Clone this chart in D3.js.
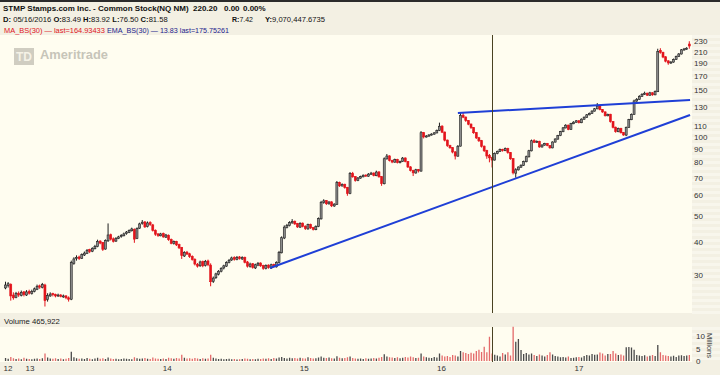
<!DOCTYPE html>
<html>
<head>
<meta charset="utf-8">
<script src="https://cdn.jsdelivr.net/npm/d3@7"></script>
<style>
  body { margin: 0; background: #fffdf0; overflow: hidden; }
  svg { display: block; }
  text { font-family: "Liberation Sans", Arial, sans-serif; }
</style>
</head>
<body>
<div id="chart"></div>
<script>
// weekly bars, first week starting 2012-10-29
const startWeek = "2012-10-29";
const open = [
  26.8, 27.4, 27.6, 25.2, 24.7, 25.6, 25.1, 25.9, 25.2, 26.0,
  25.5, 26.0, 26.5, 27.3, 26.9, 27.5, 24.2, 25.0, 25.5, 25.3,
  25.0, 25.2, 24.8, 25.0, 24.6, 24.3, 33.2, 34.6, 35.1, 34.7,
  35.7, 36.2, 37.4, 36.9, 37.7, 38.4, 40.3, 39.8, 37.6, 40.4,
  42.6, 41.1, 40.3, 41.2, 41.9, 42.2, 43.0, 43.5, 44.1, 44.6,
  41.2, 45.1, 46.9, 47.6, 45.7, 47.3, 46.4, 44.3, 42.9, 42.2,
  43.0, 41.7, 42.4, 40.9, 39.4, 40.2, 39.1, 38.1, 35.4, 36.6,
  36.1, 35.3, 34.4, 32.9, 32.5, 33.7, 32.6, 33.9, 32.7, 28.4,
  29.3, 30.2, 31.0, 31.9, 32.4, 33.5, 34.2, 34.9, 34.3, 35.1,
  34.5, 35.0, 33.6, 32.3, 33.1, 31.9, 32.7, 33.3, 32.6, 31.7,
  32.7, 31.9, 32.9, 32.2, 33.4, 36.4, 41.4, 45.4, 46.1, 47.2,
  47.9, 46.9, 45.5, 47.1, 45.9, 44.8, 46.6, 45.3, 44.5, 45.7,
  48.9, 56.4, 57.3, 55.7, 56.7, 54.7, 55.5, 67.1, 65.1, 66.1,
  64.3, 60.9, 72.6, 70.6, 68.2, 69.7, 70.5, 71.6, 70.9, 72.1,
  72.9, 71.2, 73.6, 70.6, 66.4, 82.4, 84.6, 81.4, 80.1, 82.1,
  79.7, 80.5, 83.1, 80.6, 76.9, 74.6, 72.9, 75.1, 74.1, 103.6,
  99.7, 100.5, 101.4, 102.2, 103.3, 105.5, 109.6, 104.1, 97.1, 92.6,
  90.9, 87.6, 84.4, 92.1, 120.6, 118.6, 115.1, 111.6, 108.3, 103.6,
  99.1, 96.6, 92.1, 88.6, 85.0, 83.49, 81.6, 86.4, 87.9, 89.6,
  88.5, 90.3, 87.1, 82.6, 72.8, 74.9, 76.7, 77.9, 80.4, 83.9,
  88.4, 96.6, 95.1, 96.1, 91.4, 92.9, 94.3, 92.6, 90.7, 95.4,
  97.9, 100.9, 104.4, 107.9, 110.6, 106.4, 111.9, 113.4, 114.9, 112.9,
  116.4, 118.4, 120.9, 122.4, 124.9, 127.4, 130.6, 126.6, 124.1, 119.9,
  121.6, 114.1, 108.6, 104.4, 107.6, 103.6, 101.4, 108.4, 115.9, 121.4,
  136.4, 138.4, 141.9, 144.4, 146.1, 143.4, 146.6, 143.9, 147.9, 212.0,
  208.5, 200.5, 193.5, 189.8, 191.4, 195.9, 200.9, 205.4, 212.9, 214.4,
  224.0
];
const high = [
  28.3, 28.2, 27.9, 25.8, 25.9, 26.0, 26.2, 26.1, 26.3, 26.4,
  26.4, 26.9, 27.6, 27.6, 28.0, 27.8, 25.6, 25.8, 25.7, 25.5,
  25.5, 25.4, 25.3, 25.2, 24.9, 34.0, 35.0, 35.6, 35.5, 36.2,
  36.8, 37.6, 37.7, 38.2, 39.0, 40.8, 40.6, 40.0, 40.9, 47.0,
  43.0, 41.6, 41.7, 42.2, 42.8, 43.4, 44.0, 44.6, 45.3, 45.0,
  45.4, 47.3, 48.4, 48.0, 47.8, 47.9, 46.8, 44.6, 43.2, 43.3,
  43.4, 42.9, 42.7, 41.2, 40.5, 40.4, 39.4, 38.3, 36.9, 37.0,
  36.4, 35.6, 34.7, 33.3, 34.0, 34.0, 34.2, 34.3, 33.2, 29.6,
  30.6, 31.3, 32.1, 32.8, 33.8, 34.5, 35.2, 35.3, 35.4, 35.4,
  35.3, 35.2, 33.9, 33.4, 33.3, 33.1, 33.6, 33.5, 32.8, 32.9,
  32.9, 33.1, 33.1, 33.8, 37.0, 42.0, 46.2, 46.8, 47.9, 48.8,
  48.2, 47.2, 47.5, 47.4, 46.2, 46.9, 46.9, 45.6, 46.2, 49.5,
  57.2, 58.0, 57.6, 57.1, 57.0, 56.0, 68.0, 67.6, 66.6, 66.4,
  64.6, 73.5, 73.6, 71.0, 70.4, 71.2, 72.0, 72.0, 72.8, 73.6,
  73.2, 74.4, 74.0, 71.0, 83.5, 86.0, 85.0, 81.8, 82.6, 82.5,
  81.2, 83.8, 83.5, 80.9, 77.3, 75.0, 75.6, 75.5, 105.0, 104.2,
  101.4, 102.2, 103.0, 104.0, 106.4, 113.0, 110.5, 104.6, 97.5, 93.2,
  91.4, 88.2, 93.0, 123.5, 123.0, 119.2, 115.6, 112.2, 108.8, 104.2,
  99.8, 97.2, 92.6, 89.2, 86.0, 83.92, 87.2, 88.6, 90.2, 90.0,
  91.0, 90.8, 87.5, 83.0, 76.0, 77.2, 78.6, 81.2, 84.8, 89.2,
  97.5, 97.8, 96.8, 96.5, 93.6, 94.8, 94.7, 93.0, 96.0, 98.6,
  101.6, 105.2, 108.8, 111.5, 111.0, 112.8, 114.4, 115.6, 115.3, 117.2,
  119.2, 121.8, 123.4, 125.8, 128.4, 134.0, 131.2, 127.2, 124.6, 122.2,
  122.0, 114.6, 109.2, 108.2, 108.0, 104.2, 109.2, 116.8, 122.4, 138.0,
  140.0, 143.5, 146.0, 148.0, 146.6, 147.8, 147.2, 149.5, 215.0, 216.0,
  209.5, 201.5, 194.5, 193.0, 197.5, 202.5, 207.0, 214.5, 216.5, 218.0,
  229.5
];
const low = [
  26.5, 26.9, 24.0, 24.2, 24.5, 24.8, 24.9, 24.9, 25.0, 25.3,
  25.3, 25.8, 26.3, 26.6, 26.7, 22.8, 23.8, 24.8, 24.9, 24.7,
  24.8, 24.7, 24.6, 24.3, 23.8, 24.1, 32.8, 34.0, 34.2, 34.5,
  35.4, 36.0, 36.3, 36.6, 37.5, 38.2, 39.2, 37.0, 37.4, 40.0,
  40.5, 39.8, 40.0, 41.0, 41.5, 42.0, 42.6, 43.2, 43.8, 39.7,
  41.0, 44.8, 46.5, 45.2, 45.4, 46.0, 43.8, 42.2, 41.8, 42.0,
  41.5, 41.4, 40.4, 39.2, 39.1, 38.6, 37.6, 34.5, 35.1, 35.7,
  34.8, 34.0, 32.6, 32.0, 32.2, 32.1, 32.3, 32.4, 27.2, 28.0,
  29.0, 29.9, 30.7, 31.5, 32.2, 33.2, 33.9, 34.0, 34.1, 34.3,
  34.2, 33.2, 32.0, 32.0, 31.7, 31.6, 32.4, 32.2, 31.4, 31.5,
  31.7, 31.6, 32.0, 32.0, 33.2, 36.2, 41.0, 45.0, 45.8, 46.9,
  46.4, 45.2, 45.2, 45.4, 44.4, 44.5, 44.8, 44.2, 44.3, 45.5,
  48.6, 55.8, 55.2, 55.4, 54.2, 54.3, 55.2, 64.6, 64.8, 63.6,
  59.8, 60.6, 70.0, 67.6, 67.9, 69.4, 70.2, 70.4, 70.6, 71.8,
  70.8, 70.9, 70.0, 65.2, 66.0, 82.0, 80.6, 79.4, 79.8, 79.2,
  79.3, 80.2, 80.0, 76.2, 73.9, 71.0, 72.5, 73.2, 73.8, 98.5,
  99.2, 100.0, 101.0, 101.8, 103.0, 105.0, 103.2, 96.0, 91.5, 90.0,
  86.5, 82.0, 84.0, 91.8, 117.5, 113.8, 110.5, 107.0, 102.5, 98.0,
  95.5, 91.0, 87.5, 82.5, 80.0, 76.50, 81.2, 85.8, 87.5, 87.8,
  88.2, 86.2, 81.8, 72.0, 70.0, 74.5, 76.2, 77.5, 80.0, 83.5,
  88.0, 94.6, 94.8, 90.8, 91.0, 92.5, 92.0, 90.0, 90.4, 95.0,
  97.5, 100.5, 104.0, 107.5, 105.8, 106.0, 111.5, 113.0, 112.2, 112.5,
  116.0, 118.0, 120.5, 122.0, 124.5, 127.0, 125.8, 123.2, 119.2, 119.5,
  113.0, 107.5, 103.5, 104.0, 102.8, 100.8, 100.5, 108.0, 115.5, 121.0,
  135.5, 137.8, 141.5, 143.8, 142.5, 143.0, 142.8, 143.5, 147.5, 206.0,
  198.0, 191.0, 187.0, 188.5, 190.5, 195.0, 200.0, 204.5, 211.5, 213.0,
  215.0
];
const close = [
  27.5, 27.8, 25.0, 24.6, 25.5, 25.2, 25.8, 25.3, 25.9, 25.6,
  26.0, 26.6, 27.2, 27.0, 27.6, 24.0, 25.1, 25.4, 25.3, 25.0,
  25.2, 24.9, 25.0, 24.6, 24.3, 33.4, 34.5, 35.0, 34.6, 35.8,
  36.3, 37.2, 36.8, 37.8, 38.5, 40.2, 39.6, 37.5, 40.5, 42.5,
  41.0, 40.2, 41.3, 41.8, 42.3, 42.9, 43.6, 44.2, 44.8, 41.0,
  45.0, 46.8, 47.5, 45.6, 47.2, 46.5, 44.2, 42.8, 42.3, 42.9,
  41.8, 42.5, 40.8, 39.5, 40.1, 39.0, 38.0, 35.5, 36.5, 36.0,
  35.2, 34.3, 33.0, 32.4, 33.6, 32.5, 33.8, 32.8, 28.3, 29.2,
  30.3, 31.0, 31.8, 32.5, 33.4, 34.1, 34.8, 34.4, 35.0, 34.6,
  34.9, 33.5, 32.4, 33.0, 32.0, 32.8, 33.2, 32.5, 31.8, 32.6,
  32.0, 32.8, 32.3, 33.5, 36.5, 41.5, 45.5, 46.2, 47.3, 47.8,
  46.8, 45.6, 47.0, 45.8, 44.9, 46.5, 45.2, 44.6, 45.8, 49.0,
  56.5, 57.2, 55.8, 56.6, 54.8, 55.6, 67.0, 65.2, 66.0, 64.2,
  61.0, 72.5, 70.5, 68.3, 69.8, 70.6, 71.5, 71.0, 72.2, 72.8,
  71.3, 73.5, 70.5, 66.5, 82.5, 84.5, 81.3, 80.2, 82.0, 79.8,
  80.6, 83.0, 80.5, 76.8, 74.5, 73.0, 75.0, 74.2, 103.5, 99.8,
  100.6, 101.5, 102.3, 103.4, 105.6, 109.5, 104.0, 97.0, 92.5, 90.8,
  87.5, 84.5, 92.0, 120.5, 118.5, 115.0, 111.5, 108.2, 103.5, 99.0,
  96.5, 92.0, 88.5, 84.5, 83.2, 81.58, 86.5, 88.0, 89.5, 88.6,
  90.2, 87.0, 82.5, 73.0, 75.0, 76.8, 78.0, 80.5, 84.0, 88.5,
  96.5, 95.2, 96.0, 91.5, 93.0, 94.2, 92.5, 90.8, 95.5, 98.0,
  101.0, 104.5, 108.0, 110.5, 106.5, 112.0, 113.5, 114.8, 113.0, 116.5,
  118.5, 121.0, 122.5, 125.0, 127.5, 130.5, 126.5, 124.0, 120.0, 121.5,
  114.0, 108.5, 104.5, 107.5, 103.5, 101.5, 108.5, 116.0, 121.5, 136.5,
  138.5, 142.0, 144.5, 146.0, 143.5, 146.5, 144.0, 148.0, 210.0, 208.0,
  200.0, 193.0, 190.0, 191.5, 196.0, 201.0, 205.5, 213.0, 214.5, 216.0,
  220.2
];
// weekly volume, millions
const volume = [
  1.2, 0.9, 1.6, 1.1, 0.8, 1.0, 0.7, 1.3, 0.9, 0.8,
  0.7, 0.9, 1.0, 0.8, 1.1, 3.0, 1.4, 1.0, 0.9, 1.1,
  0.8, 1.0, 0.7, 0.9, 1.2, 3.7, 1.5, 1.1, 0.9, 1.0,
  0.8, 1.2, 0.9, 0.7, 1.0, 1.3, 0.9, 1.1, 0.8, 1.4,
  1.0, 0.8, 0.9, 0.7, 0.8, 1.0, 0.9, 0.8, 0.7, 1.5,
  1.1, 0.9, 1.0, 1.2, 0.9, 0.8, 1.4, 1.0, 0.9, 0.8,
  1.0, 0.8, 1.3, 1.1, 0.9, 1.2, 1.0, 2.5, 1.3, 1.0,
  1.1, 0.9, 1.2, 1.0, 0.8, 1.1, 0.9, 1.0, 2.5, 1.3,
  1.0, 0.8, 0.9, 0.7, 0.8, 0.9, 0.7, 0.8, 0.6, 0.7,
  0.8, 1.0, 0.9, 0.7, 0.8, 0.7, 0.9, 0.8, 1.0, 0.9,
  1.1, 0.8, 1.2, 1.0, 1.4, 1.6, 1.2, 1.0, 1.3, 1.1,
  1.2, 1.0, 1.3, 1.1, 1.0, 1.5, 1.2, 1.0, 1.1, 1.4,
  1.8, 1.3, 1.2, 1.4, 1.1, 1.0, 1.9, 1.3, 1.1, 1.2,
  1.5, 1.8, 1.2, 1.0, 0.9, 1.0, 0.8, 1.1, 0.9, 1.0,
  1.2, 1.0, 1.3, 1.6, 2.7, 1.8, 1.5, 1.4, 1.2, 1.5,
  1.1, 1.3, 1.6, 1.4, 1.8, 1.5, 1.2, 1.3, 3.0, 1.8,
  1.5, 1.3, 1.2, 1.6, 1.4, 3.0, 2.2, 1.8, 2.0, 1.6,
  2.4, 2.2, 1.8, 4.0, 3.5, 3.2, 2.8, 3.3, 3.0, 4.0,
  4.5, 3.6, 5.7, 3.5, 9.7, 3.0, 2.5, 2.2, 1.8, 3.2,
  2.6, 3.5, 2.2, 13.7, 7.7, 8.8, 4.4, 2.8, 3.2, 2.6,
  3.0, 2.4, 2.0, 2.6, 2.2, 1.8, 2.4, 3.5, 2.6, 2.0,
  1.8, 1.5, 1.6, 1.4, 1.8, 1.2, 1.3, 1.5, 1.6, 1.4,
  2.0, 2.4, 2.2, 2.8, 2.5, 2.6, 3.4, 3.0, 2.2, 2.8,
  2.8, 4.0, 3.0, 2.4, 2.6, 2.2, 5.5, 5.6, 5.4, 4.5,
  2.4, 2.2, 2.0, 2.3, 1.8, 2.1, 2.4, 2.0, 6.4, 3.5,
  2.4, 2.2, 2.0, 1.8, 2.1, 1.6, 2.2, 2.3, 2.0, 2.2,
  2.4
];
const priceTicks = [30, 40, 50, 60, 70, 80, 90, 100, 110, 130, 150, 170, 190, 210, 230];
const volumeTicks = [0, 5, 10];
const yearTicks = ["2013-01-01", "2014-01-01", "2015-01-01", "2016-01-01", "2017-01-01"];
const supportLine = [["2014-10-03", 31.9], ["2017-10-25", 120.8]];
const resistanceLine = [["2016-02-15", 122.9], ["2017-10-25", 137.6]];
const cursorDate = "2016-05-16";

const width = 720,
  height = 375;
const plotRight = 692;
const priceTop = 35,
  priceBottom = 313;
const volTop = 327,
  volBottom = 362;

const parse = d3.timeParse("%Y-%m-%d");
const start = parse(startWeek);
const bars = close.map((c, i) => ({
  date: d3.timeDay.offset(start, 7 * i),
  o: open[i],
  h: high[i],
  l: low[i],
  c: c,
  v: volume[i],
}));

const x = d3
  .scaleTime()
  .domain([start, bars[bars.length - 1].date])
  .range([5.5, 5.5 + (bars.length - 1) * 2.63]);
const y = d3.scaleLog().domain([230, 30]).range([41, 275]);
const yVol = d3.scaleLinear().domain([0, 10]).range([361, 336]);

const svg = d3
  .select("#chart")
  .append("svg")
  .attr("width", width)
  .attr("height", height);

// backgrounds
svg.append("rect").attr("width", width).attr("height", height).attr("fill", "#f3f0e3");
svg.append("rect").attr("y", priceTop).attr("width", plotRight).attr("height", priceBottom - priceTop).attr("fill", "#fffdf0");
svg.append("rect").attr("y", volTop).attr("width", plotRight).attr("height", volBottom - volTop).attr("fill", "#fffdf0");
svg.append("rect").attr("width", width).attr("height", 2).attr("fill", "#2b2b2b");

// striped right axis columns
const stripes = d3.range(priceTop, priceBottom, 6).concat(d3.range(volTop, volBottom, 6));
svg
  .selectAll(".stripe")
  .data(stripes)
  .enter()
  .append("rect")
  .attr("x", plotRight)
  .attr("y", (d) => d)
  .attr("width", width - plotRight)
  .attr("height", 3)
  .attr("fill", "#f8f6ec");

// width of a text at a given size, measured off-screen
function measure(t, size, bold) {
  const s = svg.append("text").attr("font-size", size).attr("font-weight", bold ? "bold" : "normal").text(t);
  const w = s.node().getComputedTextLength();
  s.remove();
  return w;
}

// lay pieces [text, bold, gapAfter] one after the other from x0,
// at one common size chosen so the whole run is `room` wide
function flow(pieces, x0, ty, room, color, base = 8.5) {
  const gapEm = 0.28;
  let total = 0;
  pieces.forEach(([t, b, gap]) => (total += measure(t, base, b) + (gap ? gapEm * base : 0)));
  const size = Math.min(base * 1.1, base * room / total);
  let cx = x0;
  pieces.forEach(([t, b, gap]) => {
    const s = svg.append("text").attr("x", cx).attr("y", ty).attr("font-size", size)
      .attr("font-weight", b ? "bold" : "normal").attr("fill", color).text(t);
    cx += s.node().getComputedTextLength() + (gap ? gapEm * size : 0);
  });
  return size;
}

// TD Ameritrade watermark
const logo = svg.append("g").attr("opacity", 0.9);
logo.append("rect").attr("x", 14).attr("y", 48).attr("width", 20).attr("height", 17).attr("fill", "#cbc8bd");
logo.append("text").attr("x", 24).attr("y", 61).attr("text-anchor", "middle")
  .attr("font-size", 12).attr("font-weight", "bold").attr("fill", "#f4f1e6").text("TD");
const logoSize = 12 * 68 / measure("Ameritrade", 12, true);
logo.append("text").attr("x", 40).attr("y", 59).attr("font-size", logoSize).attr("font-weight", "bold")
  .attr("fill", "#c2bfb4").text("Ameritrade");

// price pane
const clip = svg.append("clipPath").attr("id", "price-clip");
clip.append("rect").attr("y", priceTop).attr("width", plotRight).attr("height", priceBottom - priceTop);
const pricePane = svg.append("g").attr("clip-path", "url(#price-clip)");

const upColor = "#1e1e1e",
  downColor = "#e3141c";

const candle = pricePane
  .selectAll(".candle")
  .data(bars)
  .enter()
  .append("g")
  .attr("class", "candle");
candle
  .append("line")
  .attr("x1", (d) => x(d.date))
  .attr("x2", (d) => x(d.date))
  .attr("y1", (d) => y(d.h))
  .attr("y2", (d) => y(d.l))
  .attr("stroke", (d) => (d.c >= d.o ? upColor : downColor))
  .attr("stroke-width", 1);
candle
  .append("rect")
  .attr("x", (d) => x(d.date) - 1)
  .attr("y", (d) => y(Math.max(d.o, d.c)))
  .attr("width", 2)
  .attr("height", (d) => Math.max(1, Math.abs(y(d.o) - y(d.c))))
  .attr("fill", (d) => (d.c >= d.o ? "#8c8c8c" : downColor))
  .attr("stroke", (d) => (d.c >= d.o ? upColor : downColor))
  .attr("stroke-width", 0.6);

// trend lines
const trend = d3
  .line()
  .x((d) => x(parse(d[0])))
  .y((d) => y(d[1]));
[supportLine, resistanceLine].forEach((pts) => {
  pricePane
    .append("path")
    .attr("d", trend(pts))
    .attr("fill", "none")
    .attr("stroke", "#1f3fd6")
    .attr("stroke-width", 2);
});

// volume pane
svg
  .selectAll(".vol")
  .data(bars)
  .enter()
  .append("rect")
  .attr("class", "vol")
  .attr("x", (d) => x(d.date) - 0.6)
  .attr("y", (d) => yVol(d.v))
  .attr("width", 1.3)
  .attr("height", (d) => yVol(0) - yVol(d.v))
  .attr("fill", (d) => (d.c >= d.o ? "#4a4a4a" : "#e46a6a"));

// cursor line
const cx = Math.round(x(parse(cursorDate))) + 0.5;
[[priceTop, priceBottom], [volTop, volBottom]].forEach(([a, b]) => {
  svg.append("line").attr("x1", cx).attr("x2", cx).attr("y1", a).attr("y2", b)
    .attr("stroke", "#4a4222").attr("stroke-width", 1);
});

// axes
const priceAxis = svg
  .append("g")
  .attr("transform", `translate(${plotRight},0)`)
  .call(d3.axisRight(y).tickValues(priceTicks).tickFormat(d3.format("d")).tickSize(0).tickPadding(2));
const volAxis = svg
  .append("g")
  .attr("transform", `translate(${plotRight},0)`)
  .call(d3.axisRight(yVol).tickValues(volumeTicks).tickSize(0).tickPadding(4));
const timeAxis = svg
  .append("g")
  .attr("transform", `translate(0,${volBottom})`)
  .call(d3.axisBottom(x).tickValues(yearTicks.map(parse)).tickFormat(d3.timeFormat("%y")).tickSize(0).tickPadding(3));
[priceAxis, volAxis, timeAxis].forEach((g) => {
  g.select(".domain").remove();
  g.selectAll("text").attr("font-size", 8).attr("fill", "#333").attr("font-family", "Liberation Sans, Arial, sans-serif");
});
svg.append("text").attr("x", 8).attr("y", 371).attr("text-anchor", "middle")
  .attr("font-size", 8).attr("fill", "#333").text(d3.timeFormat("%y")(start));

svg.append("text")
  .attr("transform", "translate(707,333) rotate(90)")
  .attr("font-size", 7.5).attr("fill", "#444").text("Millions");

// header texts
const titleSize = flow([["STMP Stamps.com Inc. - Common Stock(NQ NM)", true, false]], 3, 11, 186, "#111", 9);
[["220.20", 193], ["0.00", 224], ["0.00%", 243]].forEach(([t, tx]) => {
  svg.append("text").attr("x", tx).attr("y", 11).attr("font-size", titleSize)
    .attr("font-weight", "bold").attr("fill", "#111").text(t);
});

const infoSize = flow([
  ["D:", true, true], ["05/16/2016", false, true],
  ["O:", true, false], ["83.49", false, true],
  ["H:", true, false], ["83.92", false, true],
  ["L:", true, false], ["76.50", false, true],
  ["C:", true, false], ["81.58", false, false],
], 3, 22, 165, "#111");
[[["R:", true, false], ["7.42", false, false]], 232],
[[["Y:", true, false], ["9,070,447.6735", false, false]], 265];
flow([["R:", true, false], ["7.42", false, false]], 232, 22, 21, "#111");
flow([["Y:", true, false], ["9,070,447.6735", false, false]], 265, 22, 60, "#111");

flow([["MA_BS(30) \u2014 last=164.93433", false, false]], 4, 33, 101, "#e0141c");
flow([["EMA_BS(30) \u2014 13.83 last=175.75261", false, false]], 107, 33, 122, "#1c1c8c");

flow([["Volume 465,922", false, false]], 4, 324, 56, "#222");
</script>
</body>
</html>
